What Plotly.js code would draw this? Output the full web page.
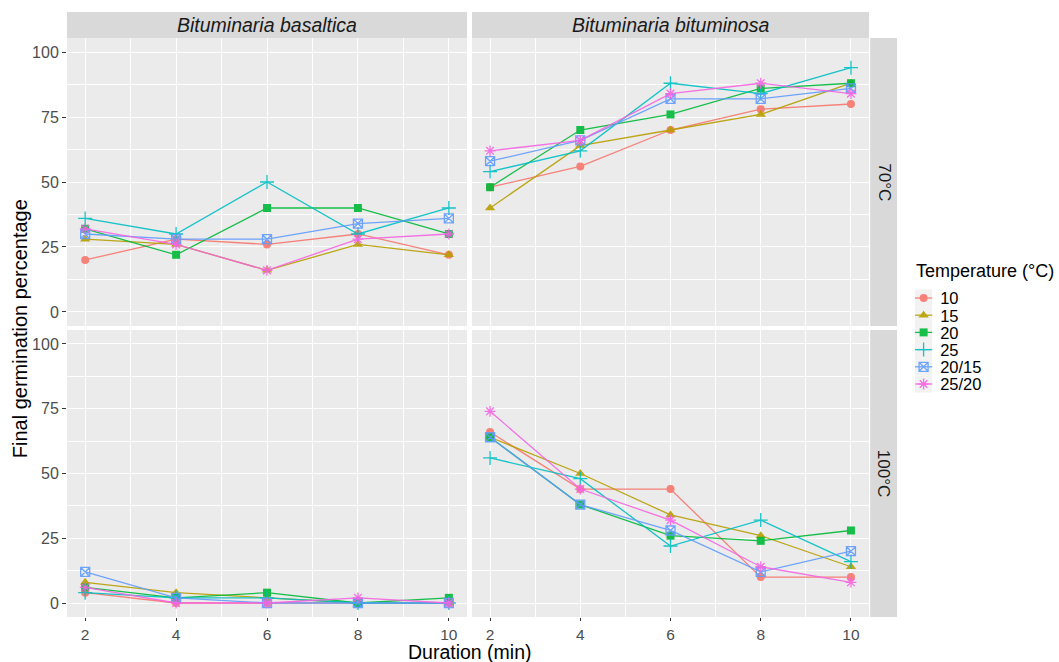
<!DOCTYPE html>
<html>
<head>
<meta charset="utf-8">
<script src="https://cdn.plot.ly/plotly-3.0.1.min.js"></script>
<style>html,body{margin:0;padding:0;background:#fff;}#chart{width:1059px;height:662px;}</style>
</head>
<body>
<div id="chart"></div>
<script>
// ---- data ----
const durations = [2, 4, 6, 8, 10];
const temperatures = ["10", "15", "20", "25", "20/15", "25/20"];
const species = ["Bituminaria basaltica", "Bituminaria bituminosa"];
const treatments = ["70°C", "100°C"];
// rows follow temperatures order
const basaltica70 = [
  [20, 28, 26, 30, 22],
  [28, 26, 16, 26, 22],
  [32, 22, 40, 40, 30],
  [36, 30, 50, 30, 40],
  [30, 28, 28, 34, 36],
  [32, 26, 16, 28, 30]
];
const bituminosa70 = [
  [48, 56, 70, 78, 80],
  [40, 64, 70, 76, 88],
  [48, 70, 76, 86, 88],
  [54, 62, 88, 84, 94],
  [58, 66, 82, 82, 86],
  [62, 66, 84, 88, 84]
];
const basaltica100 = [
  [4, 0, 0, 0, 0],
  [8, 4, 2, 0, 0],
  [6, 2, 4, 0, 2],
  [4, 2, 2, 0, 0],
  [12, 2, 0, 0, 0],
  [6, 0, 0, 2, 0]
];
const bituminosa100 = [
  [66, 44, 44, 10, 10],
  [64, 50, 34, 26, 14],
  [64, 38, 26, 24, 28],
  [56, 48, 22, 32, 16],
  [64, 38, 28, 12, 20],
  [74, 44, 32, 14, 8]
];

// ---- styles ----
const colors = ["#F8766D", "#B79F00", "#00BA38", "#00BFC4", "#619CFF", "#F564E3"];
const symbols = ["circle", "triangle-up", "square", "cross-thin-open", "square-x-open", "asterisk-open"];
const msizes = [8, 9, 8, 10, 9, 9];
const openSym = [false, false, false, true, true, true];

const panels = [
  {data: basaltica100, xa: "x", ya: "y"},
  {data: bituminosa100, xa: "x2", ya: "y2"},
  {data: basaltica70, xa: "x3", ya: "y3"},
  {data: bituminosa70, xa: "x4", ya: "y4"}
];

const traces = [];
panels.forEach((p, pi) => {
  temperatures.forEach((t, i) => {
    traces.push({
      type: "scatter",
      mode: "lines+markers",
      x: durations,
      y: p.data[i],
      xaxis: p.xa,
      yaxis: p.ya,
      name: t,
      legendgroup: t,
      showlegend: pi === 0,
      line: {color: colors[i], width: 1.3},
      opacity: 0.9,
      marker: {
        symbol: symbols[i],
        color: colors[i],
        size: msizes[i],
        line: {color: colors[i], width: openSym[i] ? 1.3 : 0}
      },
      hoverinfo: "x+y+name"
    });
  });
});

const FONT = "Liberation Sans, Arial, Helvetica, sans-serif";
const gridC = "#FFFFFF";
const leftD = [0, 0.4988];
const rightD = [0.5050, 1];
const botD = [0, 0.4957];
const topD = [0.5026, 1];

function xax(domain, anchor, showLabels) {
  return {
    domain: domain, anchor: anchor, range: [1.6, 10.4],
    tickvals: [2, 4, 6, 8, 10], ticktext: ["2", "4", "6", "8", "10"],
    showticklabels: showLabels, ticks: showLabels ? "outside" : "",
    ticklen: 3, tickwidth: 1, tickcolor: "#333333",
    tickfont: {family: FONT, size: 15.5, color: "#4D4D4D"},
    showgrid: true, gridcolor: gridC, gridwidth: 1.3,
    minor: {tickvals: [3, 5, 7, 9], showgrid: true, gridcolor: gridC, gridwidth: 0.6, ticks: ""},
    zeroline: false, showline: false, fixedrange: true
  };
}
function yax(domain, anchor, showLabels) {
  return {
    domain: domain, anchor: anchor, range: [-5.4, 105.4],
    tickvals: [0, 25, 50, 75, 100], ticktext: ["0", "25", "50", "75", "100"],
    showticklabels: showLabels, ticks: showLabels ? "outside" : "",
    ticklen: 4, tickwidth: 1, tickcolor: "#333333",
    tickfont: {family: FONT, size: 16, color: "#4D4D4D"},
    showgrid: true, gridcolor: gridC, gridwidth: 1.3,
    minor: {tickvals: [12.5, 37.5, 62.5, 87.5], showgrid: true, gridcolor: gridC, gridwidth: 0.6, ticks: ""},
    zeroline: false, showline: false, fixedrange: true
  };
}

const stripC = "#D9D9D9";
const panelC = "#EBEBEB";
const shapes = [];
[[leftD, botD], [rightD, botD], [leftD, topD], [rightD, topD]].forEach(([dx, dy]) => {
  shapes.push({type: "rect", xref: "paper", yref: "paper", x0: dx[0], x1: dx[1], y0: dy[0], y1: dy[1],
    fillcolor: panelC, line: {width: 0}, layer: "below"});
});
[leftD, rightD].forEach(dx => {
  shapes.push({type: "rect", xref: "paper", yref: "paper", x0: dx[0], x1: dx[1], y0: 1.0, y1: 1.045,
    fillcolor: stripC, line: {width: 0}, layer: "below"});
});
[topD, botD].forEach(dy => {
  shapes.push({type: "rect", xref: "paper", yref: "paper", x0: 1.0015, x1: 1.035, y0: dy[0], y1: dy[1],
    fillcolor: stripC, line: {width: 0}, layer: "below"});
});

const annotations = [
  {text: "<i>" + species[0] + "</i>", xref: "paper", yref: "paper", x: (leftD[0] + leftD[1]) / 2, y: 1.0225,
    showarrow: false, xanchor: "center", yanchor: "middle", font: {family: FONT, size: 19.5, color: "#1A1A1A"}},
  {text: "<i>" + species[1] + "</i>", xref: "paper", yref: "paper", x: (rightD[0] + rightD[1]) / 2, y: 1.0225,
    showarrow: false, xanchor: "center", yanchor: "middle", font: {family: FONT, size: 19.5, color: "#1A1A1A"}},
  {text: treatments[0], xref: "paper", yref: "paper", x: 1.0183, y: (topD[0] + topD[1]) / 2, textangle: 90,
    showarrow: false, xanchor: "center", yanchor: "middle", font: {family: FONT, size: 17, color: "#1A1A1A"}},
  {text: treatments[1], xref: "paper", yref: "paper", x: 1.0183, y: (botD[0] + botD[1]) / 2, textangle: 90,
    showarrow: false, xanchor: "center", yanchor: "middle", font: {family: FONT, size: 17, color: "#1A1A1A"}},
  {text: "Duration (min)", xref: "paper", yref: "paper", x: 0.502, y: -0.0596,
    showarrow: false, xanchor: "center", yanchor: "middle", font: {family: FONT, size: 19.5, color: "#000000"}},
  {text: "Final germination percentage", xref: "paper", yref: "paper", x: -0.0586, y: 0.497, textangle: -90,
    showarrow: false, xanchor: "center", yanchor: "middle", font: {family: FONT, size: 20, color: "#000000"}}
];

const layout = {
  width: 1059, height: 662,
  margin: {l: 67, r: 190, t: 38, b: 45, pad: 0, autoexpand: false},
  paper_bgcolor: "#FFFFFF",
  plot_bgcolor: "rgba(0,0,0,0)",
  font: {family: FONT, size: 14, color: "#000000"},
  showlegend: true,
  legend: {
    x: 1.05, y: 0.615, xanchor: "left", yanchor: "top",
    title: {text: "Temperature (°C)", font: {family: FONT, size: 18, color: "#000000"}},
    font: {family: FONT, size: 16.5, color: "#000000"},
    bgcolor: "rgba(0,0,0,0)", borderwidth: 0, tracegroupgap: 0
  },
  xaxis: xax(leftD, "y", true),
  yaxis: yax(botD, "x", true),
  xaxis2: xax(rightD, "y2", true),
  yaxis2: yax(botD, "x2", false),
  xaxis3: xax(leftD, "y3", false),
  yaxis3: yax(topD, "x3", true),
  xaxis4: xax(rightD, "y4", false),
  yaxis4: yax(topD, "x4", false),
  shapes: shapes,
  annotations: annotations,
  hovermode: "closest"
};

// compact ggplot-like legend keys (layout tweak only)
function tidyLegend() {
  try {
    const ns = "http://www.w3.org/2000/svg";
    const keyLeft = 915, firstY = 298, step = 17.2, key = 17.2;
    document.querySelectorAll(".legend [clip-path]").forEach(el => el.removeAttribute("clip-path"));
    const groups = document.querySelectorAll(".legend .traces");
    groups.forEach((g, i) => {
      const ctm = g.parentNode.getScreenCTM();
      g.setAttribute("transform", "translate(" + (keyLeft - ctm.e) + "," + (firstY + i * step - ctm.f) + ")");
      g.querySelectorAll(".legendlines path").forEach(p => p.setAttribute("d", "M0,0h" + key));
      g.querySelectorAll(".legendpoints path").forEach(p => p.setAttribute("transform", "translate(" + (key / 2) + ",0)"));
      const txt = g.querySelector("text.legendtext");
      if (txt) txt.setAttribute("x", key + 8);
      const r = document.createElementNS(ns, "rect");
      r.setAttribute("x", 0); r.setAttribute("y", -key / 2);
      r.setAttribute("width", key); r.setAttribute("height", key);
      r.setAttribute("fill", "#F2F2F2");
      g.insertBefore(r, g.firstChild);
    });
    const title = document.querySelector(".legend .legendtitletext");
    if (title) {
      const bb = title.getBoundingClientRect();
      const dx = 916 - bb.left, dy = 271 - (bb.top + bb.height / 2);
      title.setAttribute("transform", "translate(" + dx + "," + dy + ")");
    }
  } catch (e) { /* keep default legend */ }
}

Plotly.newPlot("chart", traces, layout, {displayModeBar: false}).then(tidyLegend);
</script>
</body>
</html>
